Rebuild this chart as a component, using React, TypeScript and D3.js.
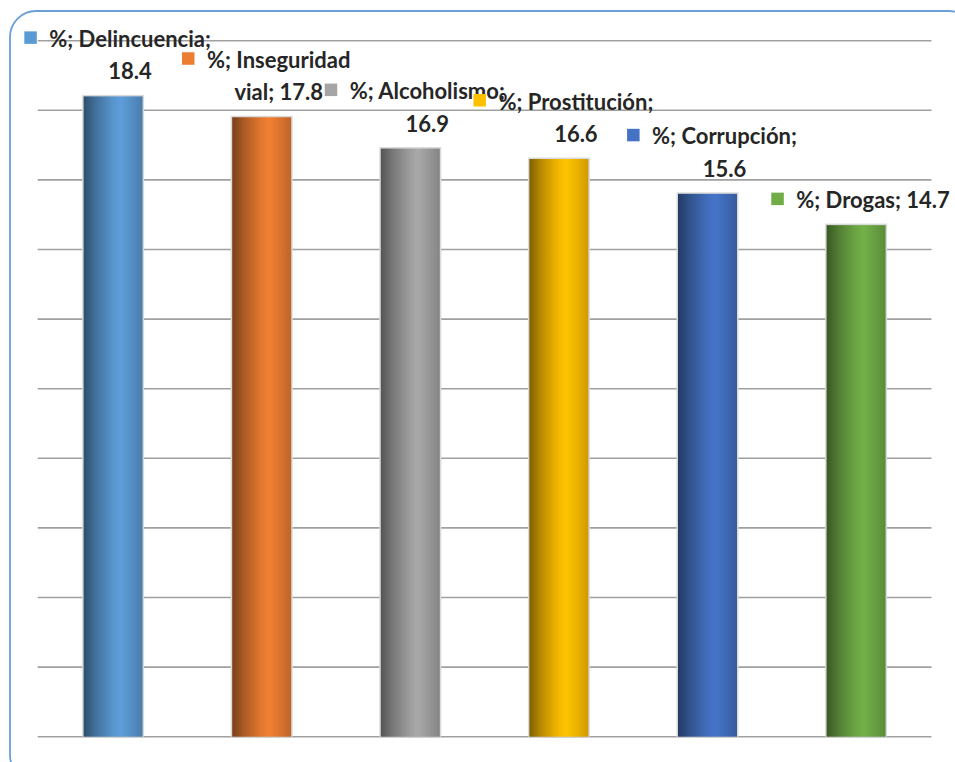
import React, { useEffect, useRef } from "react";
import * as d3 from "d3";

const seriesName = "%";
const categories = ["Delincuencia", "Inseguridad vial", "Alcoholismo", "Prostitución", "Corrupción", "Drogas"];
const values = [18.4, 17.8, 16.9, 16.6, 15.6, 14.7];
const colors = ["#5B9BD5", "#ED7D31", "#A5A5A5", "#FFC000", "#4472C4", "#70AD47"];
const yTicks = [0, 2, 4, 6, 8, 10, 12, 14, 16, 18, 20];

const W = 955;
const H = 762;
const FONT = "Lato, 'Open Sans', sans-serif";
const FONT_SIZE = 22;

export default function App() {
  const ref = useRef<SVGSVGElement | null>(null);

  useEffect(() => {
    const svg = d3.select(ref.current);
    svg.selectAll("*").remove();

    const x = d3.scaleBand<string>().domain(categories).range([37.7, 931.5]).paddingInner(0.603).paddingOuter(0.309);
    const y = d3.scaleLinear().domain([0, 20]).range([736.7, 40.7]);

    const defs = svg.append("defs");
    colors.forEach((c, i) => {
      const base = d3.color(c)!;
      const g = defs.append("linearGradient").attr("id", `g${i}`).attr("x1", 0).attr("x2", 1).attr("y1", 0).attr("y2", 0);
      const stops: [number, string][] = [
        [0, base.darker(1.9).formatHex()],
        [0.2, base.darker(0.9).formatHex()],
        [0.48, base.darker(0.15).formatHex()],
        [0.63, base.brighter(0.06).formatHex()],
        [0.85, base.darker(0.3).formatHex()],
        [1, base.darker(0.6).formatHex()],
      ];
      stops.forEach(([o, col]) => g.append("stop").attr("offset", o).attr("stop-color", col));
    });

    // border
    svg.append("rect").attr("x", 10).attr("y", 11).attr("width", 965).attr("height", 770).attr("rx", 26)
      .attr("fill", "white").attr("stroke", "#6a9fd8").attr("stroke-width", 1.8);

    // gridlines
    svg.append("g").selectAll("line").data(yTicks).join("line")
      .attr("x1", 37.7).attr("x2", 931.5)
      .attr("y1", d => y(d)).attr("y2", d => y(d))
      .attr("stroke", "#a0a0a0").attr("stroke-width", 1.6);

    // bar halo
    svg.append("g").selectAll("rect").data(values).join("rect")
      .attr("x", (d, i) => x(categories[i])! - 1.5)
      .attr("y", d => y(d) - 1.5)
      .attr("width", x.bandwidth() + 3)
      .attr("height", d => y(0) - y(d) + 1.5)
      .attr("fill", "#d9d9d9");

    // bars
    svg.append("g").selectAll("rect").data(values).join("rect")
      .attr("x", (d, i) => x(categories[i])!)
      .attr("y", d => y(d))
      .attr("width", x.bandwidth())
      .attr("height", d => y(0) - y(d))
      .attr("fill", (d, i) => `url(#g${i})`);

    // labels
    const lg = svg.append("g");
    const measure = lg.append("text").attr("font-family", FONT).attr("font-size", FONT_SIZE).attr("font-weight", "bold");
    const textW = (s: string) => {
      measure.text(s);
      return (measure.node() as SVGTextElement).getComputedTextLength();
    };
    const maxW = textW("%; Drogas; 14.7") * 1.17;
    const lineGap = 32.5;
    categories.forEach((cat, i) => {
      const full = `${seriesName}; ${cat}; ${values[i]}`;
      const words = full.split(" ");
      const lines: string[] = [];
      let cur = "";
      words.forEach(w => {
        const t = cur ? cur + " " + w : w;
        if (cur && textW(t) > maxW) {
          lines.push(cur);
          cur = w;
        } else cur = t;
      });
      if (cur) lines.push(cur);
      const cx = x(categories[i])! + x.bandwidth() / 2 + 17;
      const lastBase = y(values[i]) - 17;
      lines.forEach((ln, k) => {
        const base = lastBase - (lines.length - 1 - k) * lineGap;
        lg.append("text").attr("x", cx).attr("y", base).attr("text-anchor", "middle")
          .attr("font-family", FONT).attr("font-size", FONT_SIZE).attr("font-weight", "bold")
          .attr("fill", "#262626").text(ln);
        if (k === 0) {
          const w0 = textW(ln);
          lg.append("rect").attr("x", cx - w0 / 2 - 25).attr("y", base - 15.5).attr("width", 12.5).attr("height", 12.5)
            .attr("fill", colors[i]);
        }
      });
    });
    measure.remove();
  }, []);

  return (
    <svg ref={ref} width={W} height={H} style={{ position: "absolute", left: 0, top: 0, background: "white" }} />
  );
}
